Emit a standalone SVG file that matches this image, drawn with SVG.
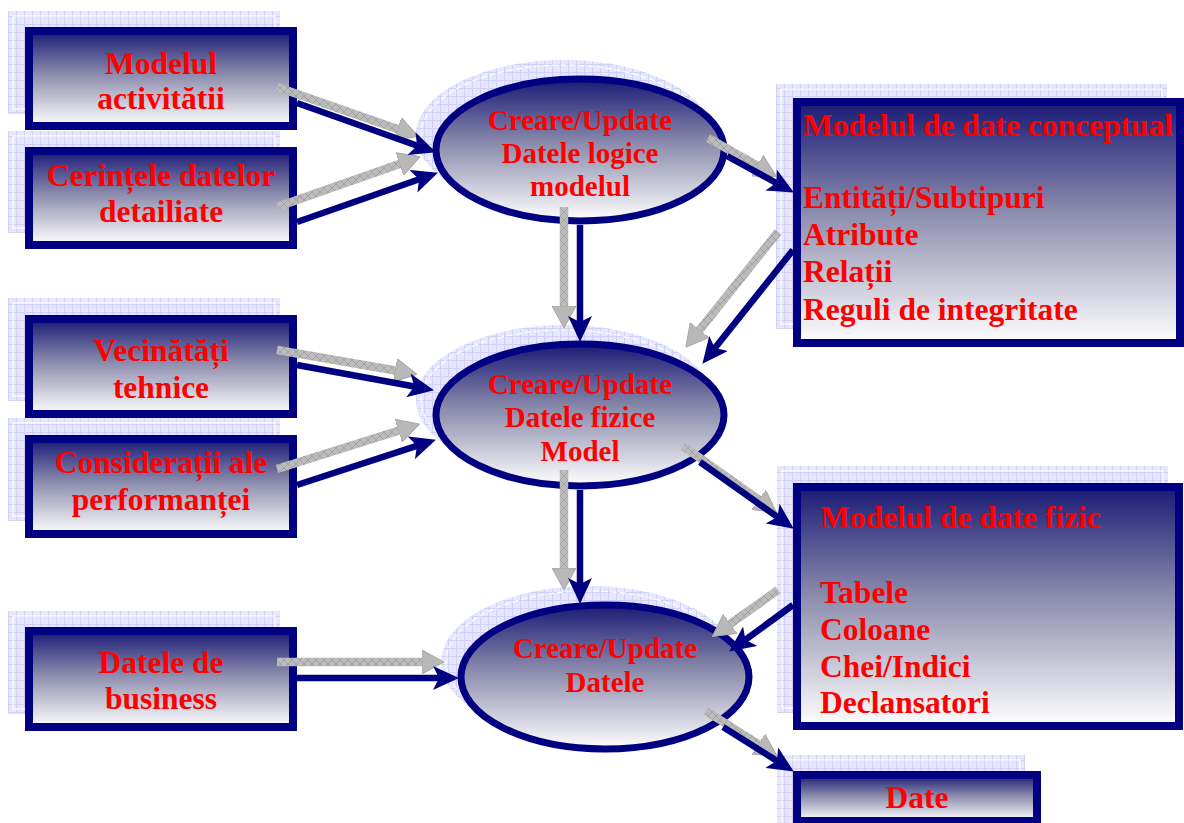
<svg xmlns="http://www.w3.org/2000/svg" width="1184" height="823" viewBox="0 0 1184 823">
<defs>
  <linearGradient id="gf" x1="0" y1="0" x2="0" y2="1">
    <stop offset="0" stop-color="#1a1a76"/>
    <stop offset="0.45" stop-color="#8a8aac"/>
    <stop offset="1" stop-color="#ffffff"/>
  </linearGradient>
  <pattern id="grid" width="8" height="8" patternUnits="userSpaceOnUse">
    <rect width="8" height="8" fill="#e6e6ff"/>
    <path d="M0,0.5 H8 M0.5,0 V8" stroke="#d0d0f8" stroke-width="1" fill="none"/>
  </pattern>
  <pattern id="hatch" width="8" height="8" patternUnits="userSpaceOnUse">
    <rect width="8" height="8" fill="#bcbcbc"/>
    <path d="M0,0 L8,8 M8,0 L0,8" stroke="#a2a2a2" stroke-width="1" fill="none"/>
  </pattern>
  <marker id="ah" markerUnits="userSpaceOnUse" viewBox="0 0 26 24" markerWidth="26" markerHeight="24" refX="13" refY="12" orient="auto">
    <path d="M0,0 L26,12 L0,24 L6,12 Z" fill="#000080"/>
  </marker>
  <marker id="gh" markerUnits="userSpaceOnUse" viewBox="0 0 22 24" markerWidth="22" markerHeight="24" refX="9" refY="12" orient="auto">
    <path d="M0,0 L22,12 L0,24 Z" fill="#b8b8b8" stroke="#a8a8a8" stroke-width="1"/>
  </marker>
</defs>
<style>
  .sh { fill: url(#grid); }
  .shl { fill: none; stroke: #ffffff; stroke-width: 1.2; }
  .box { fill: url(#gf); stroke: #000080; stroke-width: 8; }
  .ell { fill: url(#gf); stroke: #000080; stroke-width: 7; }
  .t { font-family: "Liberation Serif", "Times New Roman", serif; font-weight: bold; fill: #ff0000; font-size: 31.5px; }
  .tc { text-anchor: middle; }
  .te { font-size: 29px; text-anchor: middle; }
  .nv { stroke: #000080; stroke-width: 6.5; fill: none; marker-end: url(#ah); }
  .gr { stroke: url(#hatch); stroke-width: 8.5; fill: none; marker-end: url(#gh); }
</style>

<g id="n-modelul-activitatii">
  <rect class="sh" x="8" y="11" width="272" height="103"/>
  <rect class="shl" x="13" y="16" width="262" height="93"/>
  <rect class="box" x="29" y="31" width="264" height="95"/>
  <text class="t tc" x="161" y="74">Modelul</text>
  <text class="t tc" x="161" y="109">activitătii</text>
</g>

<g id="n-cerintele">
  <rect class="sh" x="8" y="131" width="272" height="102"/>
  <rect class="shl" x="13" y="136" width="262" height="92"/>
  <rect class="box" x="29" y="151" width="264" height="94"/>
  <text class="t tc" x="161" y="186">Cerințele datelor</text>
  <text class="t tc" x="161" y="222">detailiate</text>
</g>

<g id="n-vecinatati">
  <rect class="sh" x="8" y="298" width="272" height="103"/>
  <rect class="shl" x="13" y="303" width="262" height="93"/>
  <rect class="box" x="29" y="319" width="264" height="95"/>
  <text class="t tc" x="161" y="361">Vecinătăți</text>
  <text class="t tc" x="161" y="398">tehnice</text>
</g>

<g id="n-consideratii">
  <rect class="sh" x="8" y="418" width="272" height="103"/>
  <rect class="shl" x="13" y="423" width="262" height="93"/>
  <rect class="box" x="29" y="439" width="264" height="95"/>
  <text class="t tc" x="161" y="473">Considerații ale</text>
  <text class="t tc" x="161" y="510">performanței</text>
</g>

<g id="n-business">
  <rect class="sh" x="8" y="611" width="272" height="103"/>
  <rect class="shl" x="13" y="616" width="262" height="93"/>
  <rect class="box" x="29" y="631" width="264" height="96"/>
  <text class="t tc" x="161" y="673">Datele de</text>
  <text class="t tc" x="161" y="709">business</text>
</g>

<g id="n-logic">
  <ellipse class="sh" cx="564" cy="135" rx="148" ry="75"/>
  <ellipse class="shl" cx="564" cy="135" rx="143" ry="70" stroke-dasharray="6 3"/>
  <ellipse class="ell" cx="580" cy="150" rx="144" ry="71"/>
  <text class="t te" x="580" y="130">Creare/Update</text>
  <text class="t te" x="580" y="163">Datele logice</text>
  <text class="t te" x="580" y="196">modelul</text>
</g>

<g id="n-fizic">
  <ellipse class="sh" cx="564" cy="400" rx="148" ry="75"/>
  <ellipse class="shl" cx="564" cy="400" rx="143" ry="70" stroke-dasharray="6 3"/>
  <ellipse class="ell" cx="580" cy="415" rx="144" ry="71"/>
  <text class="t te" x="580" y="394">Creare/Update</text>
  <text class="t te" x="580" y="427">Datele fizice</text>
  <text class="t te" x="580" y="461">Model</text>
</g>

<g id="n-datele">
  <ellipse class="sh" cx="589" cy="662" rx="148" ry="76"/>
  <ellipse class="shl" cx="589" cy="662" rx="143" ry="71" stroke-dasharray="6 3"/>
  <ellipse class="ell" cx="605" cy="677" rx="144" ry="72"/>
  <text class="t te" x="605" y="658">Creare/Update</text>
  <text class="t te" x="605" y="692">Datele</text>
</g>

<g id="n-conceptual">
  <rect class="sh" x="776" y="84" width="391" height="245"/>
  <rect class="shl" x="781" y="89" width="381" height="235"/>
  <rect class="box" x="797" y="102" width="383" height="241"/>
  <text class="t" x="803" y="136">Modelul de date conceptual</text>
  <text class="t" x="803" y="208">Entități/Subtipuri</text>
  <text class="t" x="803" y="245">Atribute</text>
  <text class="t" x="803" y="282">Relații</text>
  <text class="t" x="803" y="320">Reguli de integritate</text>
</g>

<g id="n-fizic-model">
  <rect class="sh" x="777" y="466" width="391" height="247"/>
  <rect class="shl" x="782" y="471" width="381" height="237"/>
  <rect class="box" x="797" y="487" width="382" height="239"/>
  <text class="t" x="820" y="528">Modelul de date fizic</text>
  <text class="t" x="820" y="603">Tabele</text>
  <text class="t" x="820" y="640">Coloane</text>
  <text class="t" x="820" y="677">Chei/Indici</text>
  <text class="t" x="820" y="713">Declansatori</text>
</g>

<g id="n-date">
  <rect class="sh" x="777" y="755" width="248" height="70"/>
  <rect class="shl" x="782" y="760" width="238" height="70"/>
  <rect class="box" x="797" y="775" width="240" height="46"/>
  <text class="t tc" x="917" y="808">Date</text>
</g>

<g id="connectors">
  <g id="shadow-arrows">
    <path class="gr" d="M277,87 L406,132"/>
    <path class="gr" d="M277,207 L408,161"/>
    <path class="gr" d="M564,207 L564,315"/>
    <path class="gr" d="M708,138 L765,170"/>
    <path class="gr" d="M778,232 L694,337"/>
    <path class="gr" d="M277,350 L404,372"/>
    <path class="gr" d="M277,469 L407,428"/>
    <path class="gr" d="M564,470 L564,577"/>
    <path class="gr" d="M683,446 L766,505"/>
    <path class="gr" d="M778,590 L723,629"/>
    <path class="gr" d="M277,662 L431,662"/>
    <path class="gr" d="M706,711 L766,749"/>
  </g>
  <g id="main-arrows">
    <path class="nv" d="M297,103 L423.7,148"/>
    <path class="nv" d="M297,222 L425.7,177"/>
    <path class="nv" d="M580,225 L580,329"/>
    <path class="nv" d="M727,156 L782.5,186.3"/>
    <path class="nv" d="M793,250 L710.5,353.6"/>
    <path class="nv" d="M297,365 L421.2,387.8"/>
    <path class="nv" d="M297,485 L423.6,443.7"/>
    <path class="nv" d="M580,490 L580,591"/>
    <path class="nv" d="M700,462 L783.2,521.1"/>
    <path class="nv" d="M793,605 L739.7,643.9"/>
    <path class="nv" d="M297,678 L446,678"/>
    <path class="nv" d="M723,727 L782.8,764.6"/>
  </g>
</g>
</svg>
